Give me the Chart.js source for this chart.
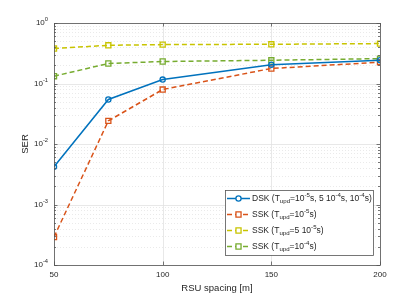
<!DOCTYPE html>
<html lang="en">
<head>
    <meta charset="UTF-8">
    <title>SER vs RSU spacing</title>
    <script src="https://cdn.jsdelivr.net/npm/chart.js"></script>
    <style>
        html, body {
            margin: 0;
            padding: 0;
            background: #fff;
        }

        .chart-box {
            position: relative;
            width: 420px;
            height: 298px;
        }
    </style>
</head>
<body>
    <div class="chart-box">
        <canvas id="serChart" width="420" height="298"></canvas>
    </div>

    <script>
        // data
        const spacing = [50, 75, 100, 150, 200];
        const dskSer = [0.0042, 0.0545, 0.116, 0.205, 0.242];
        const ssk1e5Ser = [0.00029, 0.0241, 0.0795, 0.177, 0.225];
        const ssk5e5Ser = [0.378, 0.428, 0.44, 0.445, 0.457];
        const ssk1e4Ser = [0.132, 0.214, 0.231, 0.242, 0.258];
        const xTicks = [50, 100, 150, 200];
        const yDecades = [0, -1, -2, -3, -4];

        // legend entries, split in normal / sub / sup pieces
        const legendRows = [
            [['DSK (T', 'n'], ['upd', 'sub'], ['=10', 'n'], ['-5', 'sup'], ['s, 5 10', 'n'], ['-4', 'sup'], ['s, 10', 'n'], ['-4', 'sup'], ['s)', 'n']],
            [['SSK (T', 'n'], ['upd', 'sub'], ['=10', 'n'], ['-5', 'sup'], ['s)', 'n']],
            [['SSK (T', 'n'], ['upd', 'sub'], ['=5 10', 'n'], ['-5', 'sup'], ['s)', 'n']],
            [['SSK (T', 'n'], ['upd', 'sub'], ['=10', 'n'], ['-4', 'sup'], ['s)', 'n']]
        ];

        const FONT = '"Liberation Sans", Arial, sans-serif';
        const TXT = '#262626';

        function pts(ys) {
            return spacing.map((x, i) => ({ x: x, y: ys[i] }));
        }

        function series(label, ys, color, dash, shape, r) {
            return {
                label: label,
                data: pts(ys),
                borderColor: color,
                backgroundColor: color,
                borderWidth: 1.5,
                borderDash: dash,
                pointStyle: shape,
                pointRadius: r,
                pointBorderWidth: 1.3,
                pointBackgroundColor: 'rgba(255,255,255,0)',
                pointBorderColor: color,
                tension: 0
            };
        }

        // draws text pieces with sub/superscripts, returns end x
        function richText(ctx, parts, x, y, size) {
            ctx.textBaseline = 'middle';
            ctx.textAlign = 'left';
            parts.forEach(([t, mode]) => {
                let s = size, dy = 0;
                if (mode === 'sub') { s = size * 0.72; dy = size * 0.35; }
                if (mode === 'sup') { s = size * 0.72; dy = -size * 0.4; }
                ctx.font = s + 'px ' + FONT;
                ctx.fillText(t, x, y + dy);
                x += ctx.measureText(t).width;
            });
            return x;
        }

        // grid, inward ticks and box like the matlab axes
        const axesPlugin = {
            id: 'axesLook',
            beforeDatasetsDraw(chart) {
                const { ctx, chartArea: a, scales } = chart;
                const xs = scales.x, ys = scales.y;
                ctx.save();
                // minor y grid (dotted)
                ctx.strokeStyle = '#e4e4e4';
                ctx.lineWidth = 0.8;
                ctx.setLineDash([1, 2]);
                yDecades.slice(0, -1).forEach(d => {
                    for (let k = 2; k <= 9; k++) {
                        const py = Math.round(ys.getPixelForValue(k * Math.pow(10, d - 1))) + 0.5;
                        ctx.beginPath();
                        ctx.moveTo(a.left, py);
                        ctx.lineTo(a.right, py);
                        ctx.stroke();
                    }
                });
                // major grid
                ctx.setLineDash([]);
                ctx.strokeStyle = '#e2e2e2';
                yDecades.forEach(d => {
                    const py = Math.round(ys.getPixelForValue(Math.pow(10, d))) + 0.5;
                    ctx.beginPath();
                    ctx.moveTo(a.left, py);
                    ctx.lineTo(a.right, py);
                    ctx.stroke();
                });
                xTicks.forEach(v => {
                    const px = Math.round(xs.getPixelForValue(v)) + 0.5;
                    ctx.beginPath();
                    ctx.moveTo(px, a.top);
                    ctx.lineTo(px, a.bottom);
                    ctx.stroke();
                });
                ctx.restore();
            },
            afterDatasetsDraw(chart) {
                const { ctx, chartArea: a, scales } = chart;
                const xs = scales.x, ys = scales.y;
                ctx.save();
                ctx.strokeStyle = '#555';
                ctx.lineWidth = 0.8;
                // ticks
                ctx.beginPath();
                yDecades.forEach(d => {
                    const py = Math.round(ys.getPixelForValue(Math.pow(10, d))) + 0.5;
                    ctx.moveTo(a.left, py); ctx.lineTo(a.left + 3.5, py);
                    ctx.moveTo(a.right, py); ctx.lineTo(a.right - 3.5, py);
                    if (d > -4) {
                        for (let k = 2; k <= 9; k++) {
                            const pm = Math.round(ys.getPixelForValue(k * Math.pow(10, d - 1))) + 0.5;
                            ctx.moveTo(a.left, pm); ctx.lineTo(a.left + 2, pm);
                            ctx.moveTo(a.right, pm); ctx.lineTo(a.right - 2, pm);
                        }
                    }
                });
                xTicks.forEach(v => {
                    const px = Math.round(xs.getPixelForValue(v)) + 0.5;
                    ctx.moveTo(px, a.bottom); ctx.lineTo(px, a.bottom - 3.5);
                    ctx.moveTo(px, a.top); ctx.lineTo(px, a.top + 3.5);
                });
                ctx.stroke();
                // box
                ctx.strokeRect(Math.round(a.left) + 0.5, Math.round(a.top) + 0.5,
                    Math.round(a.right - a.left), Math.round(a.bottom - a.top));

                // y tick labels 10^n
                ctx.fillStyle = TXT;
                yDecades.forEach(d => {
                    const py = ys.getPixelForValue(Math.pow(10, d));
                    const parts = [['10', 'n'], [String(d), 'sup']];
                    ctx.font = '8px ' + FONT;
                    const w1 = ctx.measureText('10').width;
                    ctx.font = (8 * 0.72) + 'px ' + FONT;
                    const w2 = ctx.measureText(String(d)).width;
                    richText(ctx, parts, a.left - 6 - w1 - w2, py, 8);
                });

                // legend
                const lx = 225, ly = 190, lw = 148, lh = 65;
                ctx.fillStyle = '#fff';
                ctx.fillRect(lx, ly, lw, lh);
                ctx.strokeStyle = '#555';
                ctx.lineWidth = 0.8;
                ctx.strokeRect(lx + 0.5, ly + 0.5, lw, lh);
                chart.data.datasets.forEach((ds, i) => {
                    const cy = ly + 8.5 + i * 16;
                    ctx.strokeStyle = ds.borderColor;
                    ctx.lineWidth = 1.5;
                    ctx.setLineDash(ds.borderDash);
                    ctx.beginPath();
                    ctx.moveTo(lx + 2, cy);
                    ctx.lineTo(lx + 25, cy);
                    ctx.stroke();
                    ctx.setLineDash([]);
                    ctx.lineWidth = 1.3;
                    ctx.fillStyle = '#fff';
                    ctx.beginPath();
                    if (ds.pointStyle === 'circle') {
                        ctx.arc(lx + 13.5, cy, ds.pointRadius, 0, Math.PI * 2);
                    } else {
                        const h = ds.pointRadius / Math.SQRT2;
                        ctx.rect(lx + 13.5 - h, cy - h, 2 * h, 2 * h);
                    }
                    ctx.fill();
                    ctx.stroke();
                    ctx.fillStyle = TXT;
                    richText(ctx, legendRows[i], lx + 27, cy, 8.5);
                });
                ctx.restore();
            }
        };

        const ctx = document.getElementById('serChart').getContext('2d');
        const serChart = new Chart(ctx, {
            type: 'line',
            data: {
                datasets: [
                    series('DSK', dskSer, '#0072bd', [], 'circle', 2.6),
                    series('SSK 1e-5', ssk1e5Ser, '#d95319', [5, 3], 'rect', 3.6),
                    series('SSK 5e-5', ssk5e5Ser, '#c8c400', [5, 3], 'rect', 3.6),
                    series('SSK 1e-4', ssk1e4Ser, '#77ac30', [5, 3], 'rect', 3.6)
                ]
            },
            options: {
                responsive: false,
                animation: false,
                layout: { padding: { top: 23, right: 40, left: 0, bottom: 0 } },
                plugins: {
                    legend: { display: false },
                    tooltip: { enabled: false }
                },
                scales: {
                    x: {
                        type: 'linear',
                        min: 50,
                        max: 200,
                        afterFit: s => { s.height = 33; },
                        afterBuildTicks: s => { s.ticks = xTicks.map(v => ({ value: v })); },
                        grid: { display: false, drawTicks: false },
                        border: { display: false },
                        ticks: {
                            padding: 5,
                            color: TXT,
                            font: { family: FONT, size: 8 }
                        },
                        title: {
                            display: true,
                            text: 'RSU spacing [m]',
                            color: TXT,
                            font: { family: FONT, size: 9.5 },
                            padding: { top: 0, bottom: 4 }
                        }
                    },
                    y: {
                        type: 'logarithmic',
                        min: 1e-4,
                        max: 1,
                        afterFit: s => { s.width = 54; },
                        grid: { display: false, drawTicks: false },
                        border: { display: false },
                        ticks: { display: false },
                        title: {
                            display: true,
                            text: 'SER',
                            color: TXT,
                            font: { family: FONT, size: 9.5 },
                            padding: { top: 20, bottom: 0 }
                        }
                    }
                }
            },
            plugins: [axesPlugin]
        });
    </script>
</body>
</html>
